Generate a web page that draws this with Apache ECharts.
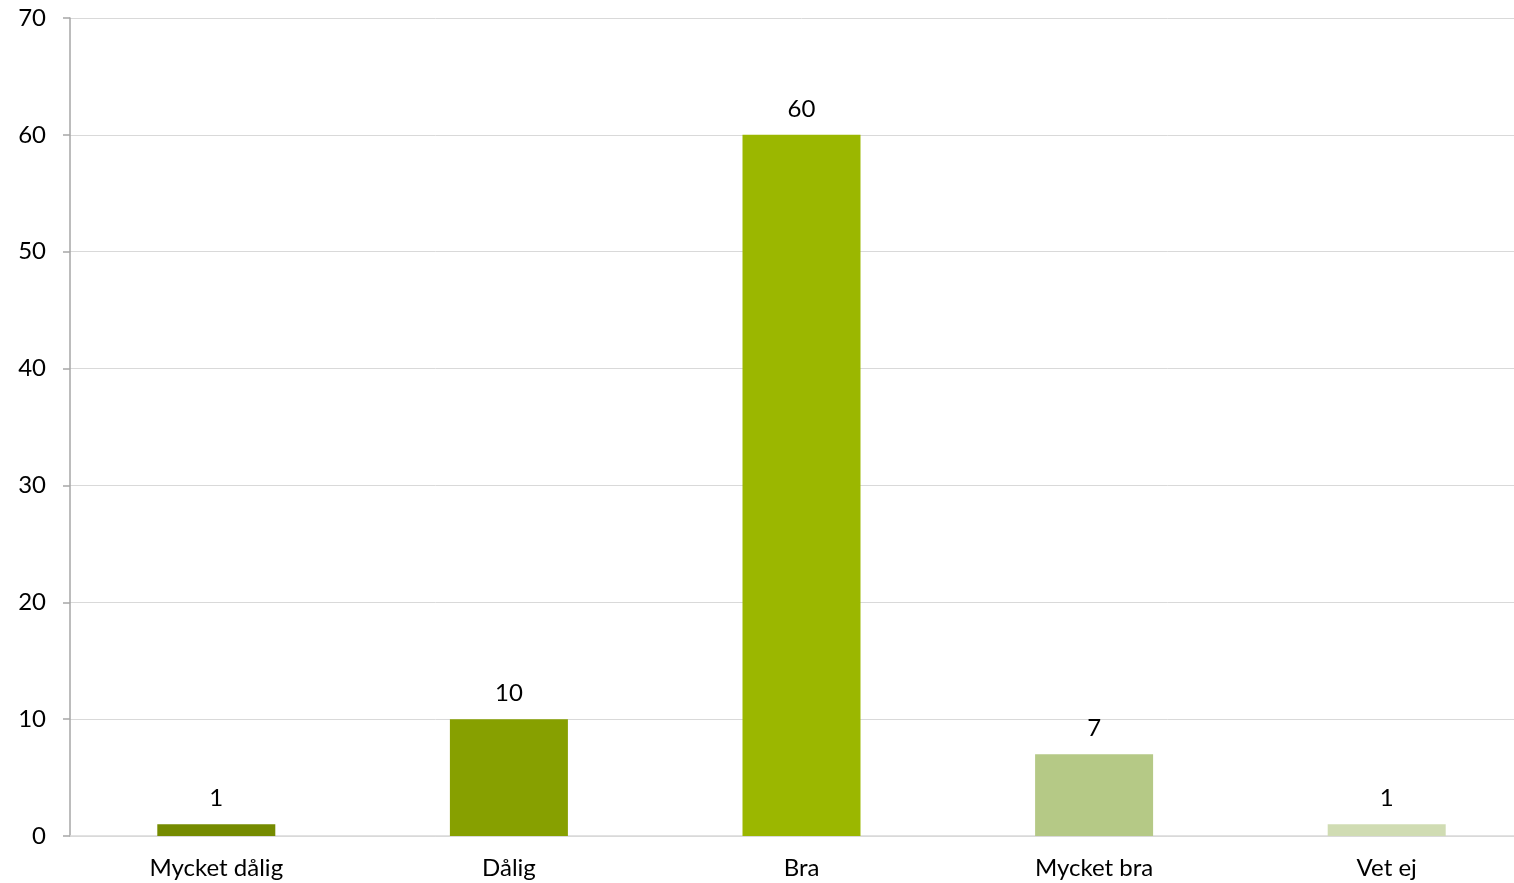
<!DOCTYPE html>
<html><head><meta charset="utf-8">
<script src="https://cdn.jsdelivr.net/npm/echarts@6/dist/echarts.min.js"></script>
<style>html,body{margin:0;padding:0;background:#fff;overflow:hidden}#c{width:1533px;height:883px}</style>
</head><body><div id="c"></div>
<script>
const categories = ["Mycket dålig", "Dålig", "Bra", "Mycket bra", "Vet ej"];
const values = [1, 10, 60, 7, 1];
const barColors = ["#758B00", "#87A000", "#9BB700", "#B5C986", "#D0DCB3"];
const yTicks = [0, 10, 20, 30, 40, 50, 60, 70];

const font = "Lato, 'Open Sans', sans-serif";
const chart = echarts.init(document.getElementById('c'));
chart.setOption({
  animation: false,
  grid: { left: 70, right: 0, top: 18, bottom: 47, containLabel: false },
  xAxis: {
    type: 'category', data: categories,
    axisLine: { lineStyle: { color: '#D9D9D9', width: 1.5 } },
    axisTick: { show: false },
    axisLabel: { color: '#000', fontSize: 24, fontFamily: font, margin: 20 }
  },
  yAxis: {
    type: 'value', min: yTicks[0], max: yTicks[yTicks.length-1], interval: 10,
    axisLine: { show: true, lineStyle: { color: '#A6A6A6', width: 1.5 } },
    axisTick: { show: true, length: 7, lineStyle: { color: '#A6A6A6', width: 1.5 } },
    splitLine: { lineStyle: { color: '#D9D9D9', width: 1 } },
    axisLabel: { color: '#000', fontSize: 24, fontFamily: font, margin: 24 }
  },
  series: [{
    type: 'bar', barWidth: 118,
    data: values.map((v, i) => ({ value: v, itemStyle: { color: barColors[i] } })),
    label: { show: true, position: 'top', distance: 14, color: '#000', fontSize: 24, fontFamily: font }
  }]
});
</script></body></html>
